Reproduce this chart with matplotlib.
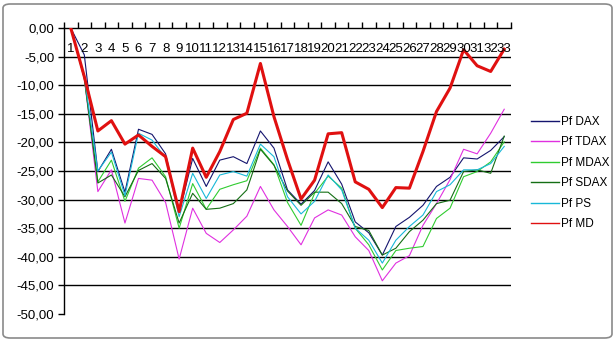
import matplotlib
matplotlib.use("Agg")
import matplotlib.pyplot as plt
from matplotlib.lines import Line2D
from matplotlib.patches import FancyBboxPatch
import matplotlib.transforms as mtransforms

plt.rcParams['font.family'] = ['Liberation Sans', 'DejaVu Sans']

categories = list(range(1, 34))
series_names = ["Pf DAX", "Pf TDAX", "Pf MDAX", "Pf SDAX", "Pf PS", "Pf MD"]

pf_dax = [0, -4.7, -25.1, -21.2, -28.7, -17.7, -18.6, -22.0, -32.3, -22.8, -27.7, -23.1, -22.5,
          -23.7, -18.0, -21.0, -28.3, -30.8, -28.4, -23.4, -27.3, -33.9, -35.8, -39.7, -34.7,
          -33.1, -31.0, -27.7, -26.1, -22.7, -22.9, -21.4, -19.0]
pf_tdax = [0, -8.8, -28.6, -24.8, -34.1, -26.3, -26.6, -30.5, -40.4, -31.5, -35.9, -37.5, -35.3,
           -32.9, -27.7, -31.8, -34.7, -37.9, -33.2, -31.8, -32.7, -36.5, -38.9, -44.2, -41.1,
           -39.8, -34.5, -30.7, -26.5, -21.2, -22.0, -18.4, -14.2]
pf_mdax = [0, -8.8, -26.9, -23.1, -30.3, -24.5, -22.7, -26.0, -35.0, -27.2, -31.7, -28.2, -27.4,
           -26.7, -21.0, -23.9, -30.5, -34.5, -28.9, -25.9, -28.0, -35.0, -37.9, -42.3, -38.9,
           -38.5, -38.2, -33.3, -31.5, -26.0, -25.1, -23.4, -19.9]
pf_sdax = [0, -8.8, -27.1, -25.7, -29.5, -24.9, -23.7, -26.3, -34.1, -28.9, -31.7, -31.5, -30.7,
           -28.3, -21.2, -24.0, -28.5, -31.0, -28.7, -28.7, -30.7, -34.7, -35.4, -39.7, -38.5,
           -35.6, -33.6, -30.7, -30.1, -25.1, -24.8, -25.4, -18.9]
pf_ps = [0, -8.5, -25.0, -21.7, -29.3, -18.4, -19.6, -22.7, -33.0, -25.4, -29.8, -25.7, -25.1,
         -25.9, -20.3, -22.5, -29.5, -32.5, -30.3, -25.7, -28.3, -35.0, -37.1, -41.1, -37.1,
         -34.7, -32.7, -28.6, -27.4, -24.8, -24.8, -23.7, -20.7]
pf_md = [0, -8.5, -18.0, -16.2, -20.3, -18.7, -20.7, -22.5, -32.1, -21.0, -26.1, -21.6, -16.0,
         -14.9, -6.2, -15.5, -23.0, -29.9, -26.6, -18.5, -18.3, -26.9, -28.2, -31.4, -27.9,
         -28.0, -21.6, -14.6, -10.5, -3.8, -6.6, -7.6, -3.7]

y_ticks = [0, -5, -10, -15, -20, -25, -30, -35, -40, -45, -50]

all_series = [pf_dax, pf_tdax, pf_mdax, pf_sdax, pf_ps, pf_md]
colors = ['#14146e', '#e030e0', '#30cc30', '#146e14', '#18b8d8', '#e01010']
widths = [0.8, 0.8, 0.8, 0.8, 0.8, 2.2]

W, H = 616, 341
fig = plt.figure(figsize=(W / 100, H / 100), dpi=100)
fig.patch.set_facecolor('white')

# outer chart border
border = FancyBboxPatch((3 / W, 3 / H), (W - 7) / W, (H - 7) / H,
                        boxstyle="round,pad=0,rounding_size=0.012",
                        transform=fig.transFigure, fill=False,
                        edgecolor='#8a8a8a', linewidth=1.2)
fig.patches.append(border)

left, right, top, bottom = 64, 511, 28, 314
ax = fig.add_axes([left / W, 1 - bottom / H, (right - left) / W, (bottom - top) / H])
ax.set_facecolor('none')

for vals, c, lw, name in zip(all_series, colors, widths, series_names):
    ax.plot(categories, vals, color=c, lw=lw, label=name, zorder=3)

ax.set_xlim(0.5, len(categories) + 0.5)
ax.set_ylim(-50, 0)

# gridlines
for yv in y_ticks[1:-1]:
    ax.axhline(yv, color='black', lw=1.0, zorder=1)

ax.spines['right'].set_visible(False)
ax.spines['bottom'].set_visible(False)
ax.spines['left'].set_color('black')
ax.spines['top'].set_color('black')
ax.spines['left'].set_linewidth(1.0)
ax.spines['top'].set_linewidth(1.0)

ax.set_yticks(y_ticks)
ax.set_yticklabels([("%.2f" % v).replace('.', ',') for v in y_ticks], fontsize=9.5)
ax.tick_params(axis='y', direction='out', length=4, width=1, pad=3)

# x ticks at category boundaries on the top axis
ax.xaxis.set_ticks_position('top')
ax.set_xticks([c - 0.5 for c in categories] + [categories[-1] + 0.5])
ax.set_xticklabels([])
ax.tick_params(axis='x', direction='out', length=4, width=1)

trans = mtransforms.blended_transform_factory(ax.transData, ax.transAxes)
for c in categories:
    ax.text(c, 1 - 21 / (bottom - top), str(c), transform=trans, ha='center', va='center',
            fontsize=9.5)

handles = [Line2D([0], [0], color=c, lw=1.0) for c in colors]
fig.legend(handles, series_names, loc='upper left', bbox_to_anchor=(526 / W, 1 - 111 / H),
           frameon=False, fontsize=8.5, handlelength=2.4, handletextpad=0.15,
           labelspacing=0.72, borderaxespad=0)

fig.savefig('out.png', dpi=100)
